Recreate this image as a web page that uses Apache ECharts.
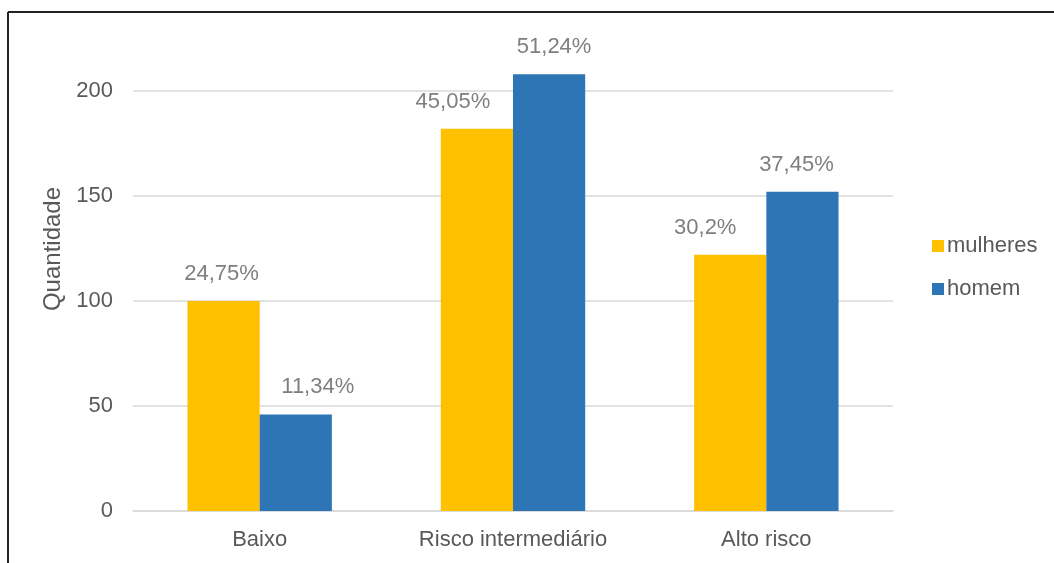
<!DOCTYPE html>
<html>
<head>
<meta charset="utf-8">
<script src="https://cdn.jsdelivr.net/npm/echarts@6/dist/echarts.min.js"></script>
<style>
html,body{margin:0;padding:0;background:#fff;}
#c{width:1054px;height:563px;}
</style>
</head>
<body>
<div id="c"></div>
<script>
const categories = ['Baixo', 'Risco intermediário', 'Alto risco'];
const seriesNames = ['mulheres', 'homem'];
const mulheres = [100, 182, 122];
const homem = [46, 208, 152];
const mulheresPct = ['24,75%', '45,05%', '30,2%'];
const homemPct = ['11,34%', '51,24%', '37,45%'];
const yTicks = [0, 50, 100, 150, 200];
const yAxisName = 'Quantidade';

const FONT = '"Liberation Sans", Arial, sans-serif';
const mulheresOffX = [-2, -24, -25];
const homemOffX = [22, 5, -6];

function buildData(vals, pcts, offs) {
  return vals.map((v, i) => ({
    value: v,
    label: { formatter: pcts[i], offset: [offs[i], 0] }
  }));
}

const chart = echarts.init(document.getElementById('c'));
chart.setOption({
  animation: false,
  backgroundColor: '#fff',
  textStyle: { fontFamily: FONT },
  grid: { left: 133, right: 161, top: 91, bottom: 52, containLabel: false },
  legend: {
    orient: 'vertical',
    left: 927, top: 230,
    itemWidth: 12, itemHeight: 12, itemGap: 21,
    icon: 'rect',
    textStyle: { fontFamily: FONT, fontSize: 22, color: '#595959', padding: [0, 0, 0, -2] },
    data: seriesNames
  },
  xAxis: {
    type: 'category',
    data: categories,
    axisTick: { show: false },
    axisLine: { lineStyle: { color: '#d9d9d9', width: 1.5 } },
    axisLabel: { fontFamily: FONT, fontSize: 22, color: '#595959', margin: 18 }
  },
  yAxis: {
    type: 'value',
    min: yTicks[0], max: yTicks[yTicks.length - 1], interval: yTicks[1] - yTicks[0],
    axisLine: { show: false },
    axisTick: { show: false },
    splitLine: { lineStyle: { color: '#d9d9d9', width: 1.5 } },
    axisLabel: { fontFamily: FONT, fontSize: 22, color: '#595959', margin: 20 }
  },
  graphic: [
    { type: 'line', shape: { x1: 8, y1: 12, x2: 1054, y2: 12 }, style: { stroke: '#222', lineWidth: 2 } },
    { type: 'line', shape: { x1: 8, y1: 12, x2: 8, y2: 563 }, style: { stroke: '#222', lineWidth: 2 } },
    { type: 'text', x: 53, y: 249, rotation: Math.PI / 2,
      style: { text: yAxisName, font: '24px ' + FONT, fill: '#595959', textAlign: 'center', textVerticalAlign: 'middle' } }
  ],
  series: [
    {
      name: seriesNames[0], type: 'bar', clip: false,
      barGap: '0%', barCategoryGap: '43%',
      itemStyle: { color: '#FFC000' },
      label: { show: true, position: 'top', distance: 16, fontFamily: FONT, fontSize: 22, color: '#7f7f7f' },
      data: buildData(mulheres, mulheresPct, mulheresOffX)
    },
    {
      name: seriesNames[1], type: 'bar', clip: false,
      barGap: '0%', barCategoryGap: '43%',
      itemStyle: { color: '#2E75B6' },
      label: { show: true, position: 'top', distance: 16, fontFamily: FONT, fontSize: 22, color: '#7f7f7f' },
      data: buildData(homem, homemPct, homemOffX)
    }
  ]
});
</script>
</body>
</html>
